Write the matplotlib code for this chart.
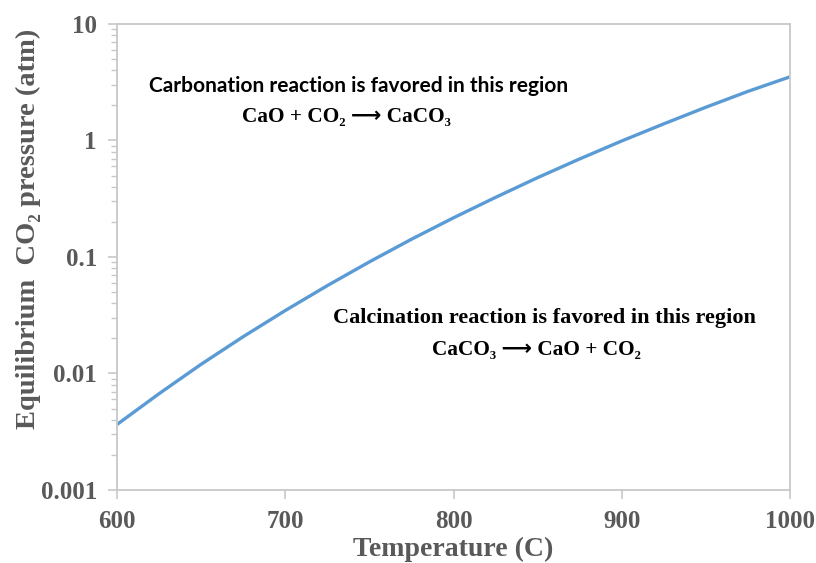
import matplotlib
matplotlib.use("Agg")
import matplotlib.pyplot as plt
from matplotlib.ticker import LogLocator, FixedLocator, NullFormatter

# Data
temperature_c = [600, 625, 650, 675, 700, 725, 750, 775, 800, 825, 850, 875, 900, 925, 950, 975, 1000]
pressure_atm = [0.00365, 0.00671, 0.0120, 0.0207, 0.0347, 0.0568, 0.0908, 0.142, 0.217, 0.325,
                0.480, 0.695, 0.991, 1.39, 1.93, 2.64, 3.52]
x_ticks = [600, 700, 800, 900, 1000]
y_ticks = [0.001, 0.01, 0.1, 1, 10]
y_tick_labels = ["0.001", "0.01", "0.1", "1", "10"]

SERIF = ['Liberation Serif', 'DejaVu Sans']
SANS = ['Lato', 'DejaVu Sans']
GRAY = '#595959'
SPINE = '#c8c8c8'

fig = plt.figure(figsize=(8.16, 5.63), dpi=100)
ax = fig.add_axes([0.1434, 0.1297, 0.8248, 0.8277])

ax.plot(temperature_c, pressure_atm, color='#5b9bd5', linewidth=2.4)
ax.set_yscale('log')
ax.set_xlim(600, 1000)
ax.set_ylim(0.001, 10)

ax.set_xticks(x_ticks)
ax.set_xticklabels([str(t) for t in x_ticks])
ax.yaxis.set_major_locator(FixedLocator(y_ticks))
ax.set_yticklabels(y_tick_labels)
ax.yaxis.set_minor_locator(LogLocator(base=10, subs=range(2, 10)))
ax.yaxis.set_minor_formatter(NullFormatter())

for sp in ax.spines.values():
    sp.set_color(SPINE)
    sp.set_linewidth(1.3)

ax.tick_params(axis='both', which='major', direction='out', length=6.5, width=1.2, color=SPINE,
               labelcolor=GRAY, labelsize=18)
ax.tick_params(axis='y', which='major', pad=8)
ax.tick_params(axis='x', which='major', pad=8)
ax.tick_params(axis='y', which='minor', direction='out', length=4.3, width=1.0, color=SPINE)
for lab in ax.get_xticklabels() + ax.get_yticklabels():
    lab.set_family(SERIF)
    lab.set_fontweight('bold')

ax.set_xlabel('Temperature (C)', family=SERIF, fontweight='bold', fontsize=20, color=GRAY, labelpad=3)
ax.set_ylabel('Equilibrium  CO₂ pressure (atm)', family=SERIF, fontweight='bold', fontsize=20.5,
              color=GRAY)
ax.yaxis.set_label_coords(-0.113, 0.56)

ax.text(0.440, 0.847, 'Carbonation reaction is favored in this region', transform=fig.transFigure,
        family=SANS, fontweight='bold', fontsize=15, ha='center', va='center', color='black')
ax.text(0.425, 0.792, 'CaO + CO₂ ⟶ CaCO₃', transform=fig.transFigure,
        family=SERIF, fontweight='bold', fontsize=15.3, ha='center', va='center', color='black')
ax.text(0.667, 0.435, 'Calcination reaction is favored in this region', transform=fig.transFigure,
        family=SERIF, fontweight='bold', fontsize=16, ha='center', va='center', color='black')
ax.text(0.658, 0.378, 'CaCO₃ ⟶ CaO + CO₂', transform=fig.transFigure,
        family=SERIF, fontweight='bold', fontsize=15.3, ha='center', va='center', color='black')

fig.savefig('out.png', dpi=100)
